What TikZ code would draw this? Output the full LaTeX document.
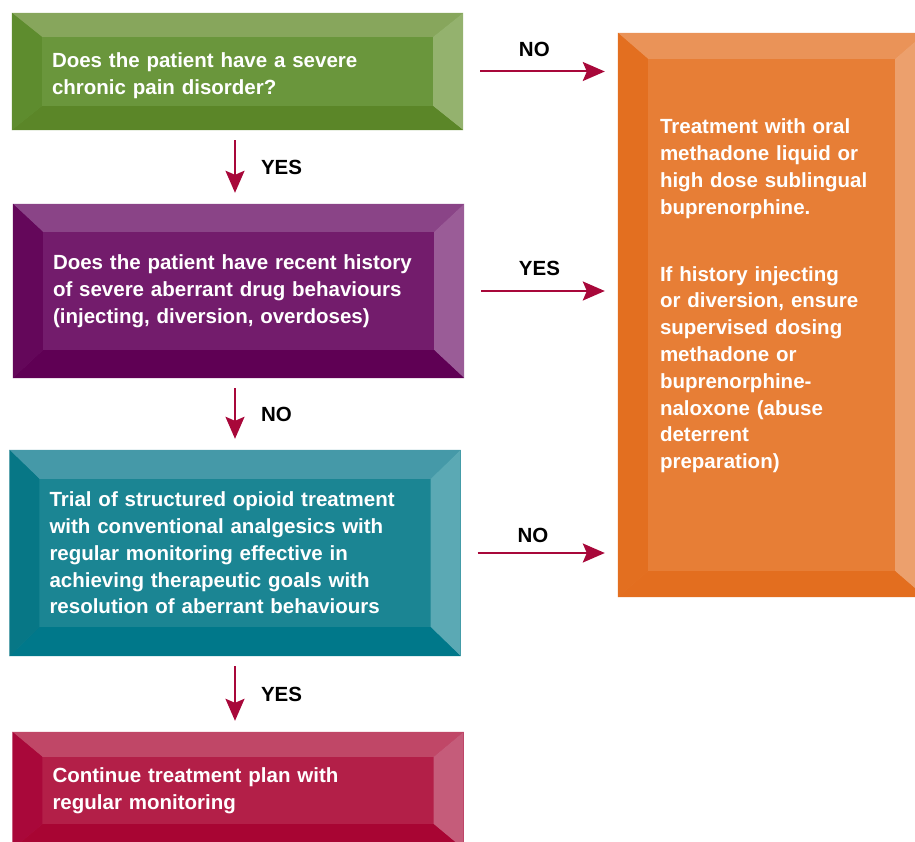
\documentclass[tikz,border=0pt]{standalone}
\usepackage{fontspec}
\setmainfont{Liberation Sans}
\usetikzlibrary{arrows.meta,positioning}

\definecolor{grnC}{HTML}{6A963C}\definecolor{grnT}{HTML}{87A65C}
\definecolor{grnR}{HTML}{94B26E}\definecolor{grnB}{HTML}{5B8628}\definecolor{grnL}{HTML}{5E8C2E}
\definecolor{purC}{HTML}{731C6C}\definecolor{purT}{HTML}{8A4487}
\definecolor{purR}{HTML}{9A5C97}\definecolor{purB}{HTML}{5F0054}\definecolor{purL}{HTML}{64075A}
\definecolor{tealC}{HTML}{1B8593}\definecolor{tealT}{HTML}{4599A8}
\definecolor{tealR}{HTML}{5BA9B4}\definecolor{tealB}{HTML}{00788A}\definecolor{tealL}{HTML}{077786}
\definecolor{redC}{HTML}{B31F48}\definecolor{redT}{HTML}{C04767}
\definecolor{redR}{HTML}{C55C7A}\definecolor{redB}{HTML}{A80533}\definecolor{redL}{HTML}{A9083A}
\definecolor{orgC}{HTML}{E77E36}\definecolor{orgT}{HTML}{EA9358}
\definecolor{orgR}{HTML}{ECA06D}\definecolor{orgB}{HTML}{E36E1F}\definecolor{orgL}{HTML}{E36F20}
\definecolor{arrowred}{HTML}{A8083A}

% bevelled edges of a box: node, vertical inset, colour prefix
\newcommand{\bevel}[3]{%
  \fill[#3T] (#1.north west) -- (#1.north east) -- ([shift={(-30,#2)}]#1.north east) -- ([shift={(30,#2)}]#1.north west) -- cycle;
  \fill[#3R] (#1.north east) -- (#1.south east) -- ([shift={(-30,-#2)}]#1.south east) -- ([shift={(-30,#2)}]#1.north east) -- cycle;
  \fill[#3B] (#1.south east) -- (#1.south west) -- ([shift={(30,-#2)}]#1.south west) -- ([shift={(-30,-#2)}]#1.south east) -- cycle;
  \fill[#3L] (#1.south west) -- (#1.north west) -- ([shift={(30,#2)}]#1.north west) -- ([shift={(30,-#2)}]#1.south west) -- cycle;
}

\tikzset{
  bodytext/.style={text=white, inner sep=0pt, align=left, font=\fontsize{20.5}{26.8}\selectfont\bfseries},
  box/.style={bodytext, minimum width=451pt, text width=371pt},
  flow/.style={draw=arrowred, line width=2pt, -{Stealth[length=22pt,width=19pt,inset=4pt]}},
  answer/.style={text=black, inner sep=0pt, font=\fontsize{20.5}{24}\selectfont\bfseries}
}

\begin{document}
\begin{tikzpicture}[x=1pt,y=-1pt]
  \useasboundingbox (0,0) rectangle (915,842);

  % Boxes
  \node[box, fill=grnC, minimum height=117pt, text depth=22pt] (box1) at (237.5,71.5)
    {Does the patient have a severe\\chronic pain disorder?};
  \node[box, fill=purC, minimum height=174pt] (box2) at (238.5,291)
    {Does the patient have recent history\\of severe aberrant drug behaviours\\(injecting, diversion, overdoses)};
  \node[box, fill=tealC, minimum height=206pt] (box3) at (235,553)
    {Trial of structured opioid treatment\\with conventional analgesics with\\regular monitoring effective in\\achieving therapeutic goals with\\resolution of aberrant behaviours};
  \node[box, fill=redC, minimum height=117pt] (box4) at (238,790.5)
    {Continue treatment plan with\\regular monitoring};
  \node[fill=orgC, minimum width=307pt, minimum height=564pt, inner sep=0pt] (box5) at (771.5,315) {};

  \bevel{box1}{24}{grn}
  \bevel{box2}{28}{pur}
  \bevel{box3}{29}{teal}
  \bevel{box4}{25}{red}
  \bevel{box5}{26}{org}

  \node[bodytext, anchor=north west, text width=235pt] (plan) at ([shift={(42,86)}]box5.north west)
    {Treatment with oral\\methadone liquid or\\high dose sublingual\\buprenorphine.\\[40pt]
     If history injecting\\or diversion, ensure\\supervised dosing\\methadone or\\buprenorphine-\\naloxone (abuse\\deterrent\\preparation)};

  % Arrows down
  \draw[flow, shorten <=10pt, shorten >=11pt] ([xshift=-2.5]box1.south) -- ([xshift=-2.5]box1.south |- box2.north)
    node[answer, midway, right=25pt] {YES};
  \draw[flow, shorten <=10pt, shorten >=11pt] ([xshift=-3.5]box2.south) -- ([xshift=-3.5]box2.south |- box3.north)
    node[answer, midway, right=25pt] {NO};
  \draw[flow, shorten <=10pt, shorten >=11pt] (box3.south) -- (box3.south |- box4.north)
    node[answer, midway, right=25pt] {YES};

  % Arrows right
  \draw[flow, shorten <=17pt, shorten >=13pt] (box1.east) -- (box1.east -| box5.west)
    node[answer, pos=0.46, above=14pt] {NO};
  \draw[flow, shorten <=17pt, shorten >=13pt] (box2.east) -- (box2.east -| box5.west)
    node[answer, pos=0.49, above=14pt] {YES};
  \draw[flow, shorten <=17pt, shorten >=13pt] (box3.east) -- (box3.east -| box5.west)
    node[answer, pos=0.46, above=9pt] {NO};
\end{tikzpicture}
\end{document}
